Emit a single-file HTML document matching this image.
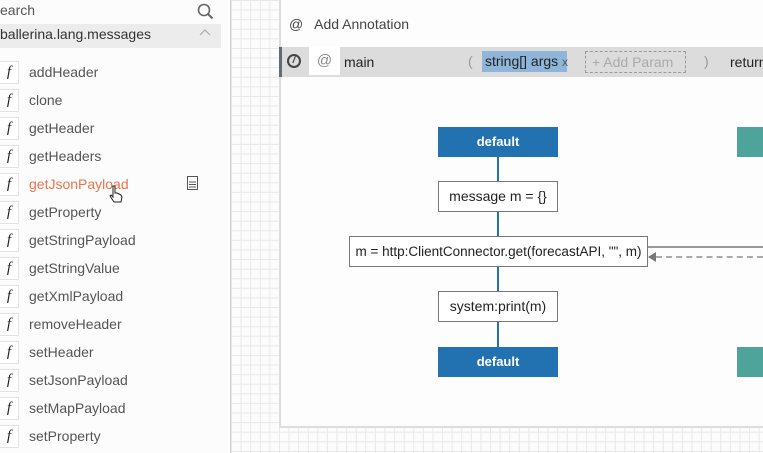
<!DOCTYPE html>
<html><head><style>
*{margin:0;padding:0;box-sizing:border-box}
body{width:763px;height:453px;overflow:hidden;position:relative;background:#fff;font-family:"Liberation Sans",sans-serif;}
.a{position:absolute;white-space:nowrap}
.grid{left:230px;top:0;width:533px;height:453px;background-color:#fcfcfc;background-image:linear-gradient(#e8e8e8 1px,transparent 1px),linear-gradient(90deg,#e8e8e8 1px,transparent 1px);background-size:9.6px 9.6px;border-left:1px solid #ccc}
.it{position:absolute;left:0;height:28px;width:229px}
.it .f{position:absolute;left:-1px;top:3px;width:20px;height:23px;border:1px solid #e4e4e4;background:#fff;font-family:"Liberation Serif",serif;font-style:italic;font-size:15px;text-align:center;line-height:21px;color:#222}
.it .t{position:absolute;left:29px;top:6px;font-size:14px;color:#555;white-space:nowrap}
.box{position:absolute;background:#fff;border:1px solid #777;font-size:14px;color:#222;text-align:center;line-height:29px;height:31px;white-space:nowrap}
.blue{position:absolute;background:#2271b1;color:#fff;font-weight:bold;font-size:13px;text-align:center;line-height:30px;width:120px;height:30px;left:438px}
.teal{position:absolute;background:#4ea39a;left:737px;width:30px;height:30px}
</style></head><body>
<div class="a" style="left:0;top:0;width:229px;height:453px;background:#fcfcfc"></div>
<div class="a" style="left:0;top:2px;font-size:14px;color:#555">earch</div>
<svg class="a" style="left:197px;top:3px" width="17" height="17"><circle cx="7" cy="7" r="5.5" fill="none" stroke="#666" stroke-width="1.6"/><line x1="11" y1="11" x2="15.5" y2="15.5" stroke="#666" stroke-width="2"/></svg>
<div class="a" style="left:0;top:24px;width:221px;height:24px;background:#ececec"></div>
<div class="a" style="left:0;top:26px;font-size:14px;color:#333">ballerina.lang.messages</div>
<svg class="a" style="left:199px;top:29px" width="12" height="8"><polyline points="1,6 6,1 11,6" fill="none" stroke="#aaa" stroke-width="1.2"/></svg>
<div class="it" style="top:58px"><div class="f">f</div><div class="t">addHeader</div></div>
<div class="it" style="top:86px"><div class="f">f</div><div class="t">clone</div></div>
<div class="it" style="top:114px"><div class="f">f</div><div class="t">getHeader</div></div>
<div class="it" style="top:142px"><div class="f">f</div><div class="t">getHeaders</div></div>
<div class="it" style="top:170px"><div class="f">f</div><div class="t" style="color:#e8744a">getJsonPayload</div></div>
<div class="it" style="top:198px"><div class="f">f</div><div class="t">getProperty</div></div>
<div class="it" style="top:226px"><div class="f">f</div><div class="t">getStringPayload</div></div>
<div class="it" style="top:254px"><div class="f">f</div><div class="t">getStringValue</div></div>
<div class="it" style="top:282px"><div class="f">f</div><div class="t">getXmlPayload</div></div>
<div class="it" style="top:310px"><div class="f">f</div><div class="t">removeHeader</div></div>
<div class="it" style="top:338px"><div class="f">f</div><div class="t">setHeader</div></div>
<div class="it" style="top:366px"><div class="f">f</div><div class="t">setJsonPayload</div></div>
<div class="it" style="top:394px"><div class="f">f</div><div class="t">setMapPayload</div></div>
<div class="it" style="top:422px"><div class="f">f</div><div class="t">setProperty</div></div>
<svg class="a" style="left:187px;top:176px" width="11" height="14"><rect x="0.5" y="0.5" width="10" height="13" fill="#fff" stroke="#555"/><line x1="2" y1="6" x2="9" y2="6" stroke="#555"/><line x1="2" y1="8.5" x2="9" y2="8.5" stroke="#555"/><line x1="2" y1="11" x2="9" y2="11" stroke="#555"/></svg>
<svg class="a" style="left:108px;top:185px" width="16" height="18"><path d="M5,1 L7,1 L7,8 L9,8 L11,9 L13,10 L14,12 L13,17 L6,17 L2,11 L3,10 L5,12 Z" fill="#fff" stroke="#222" stroke-width="1"/></svg>

<div class="a grid"></div>
<div class="a" style="left:279px;top:0;width:484px;height:428px;background:#fdfdfd;border-left:2px solid #ddd;border-bottom:2px solid #ddd"></div>
<div class="a" style="left:289px;top:16px;font-size:14px;color:#444">@&nbsp;&nbsp; Add Annotation</div>
<div class="a" style="left:279px;top:47px;width:484px;height:30px;background:#dcdcdc;border-left:3px solid #5d6b7a"></div>
<div class="a" style="left:287px;top:54px;width:14px;height:14px;border:2px solid #444;border-radius:50%;font-size:10px;font-style:italic;font-weight:bold;text-align:center;line-height:10px;color:#444">/</div>
<div class="a" style="left:309px;top:47px;width:31px;height:28px;background:#fff;font-size:15px;color:#888;text-align:center;line-height:28px">@</div>
<div class="a" style="left:344px;top:54px;font-size:14px;color:#222">main</div>
<div class="a" style="left:468px;top:53px;font-size:14px;color:#999">(</div>
<div class="a" style="left:482px;top:51px;width:85px;height:21px;background:#8fb5d9;font-size:14px;color:#222;line-height:21px;padding-left:3px">string[] args <span style="color:#555;font-size:12px">x</span></div>
<div class="a" style="left:585px;top:51px;width:101px;height:22px;border:1px dashed #999;font-size:14px;color:#aaa;line-height:20px;padding-left:6px">+ Add Param</div>
<div class="a" style="left:704px;top:53px;font-size:14px;color:#999">)</div>
<div class="a" style="left:730px;top:54px;font-size:14px;color:#222">return</div>

<div class="a" style="left:497px;top:157px;width:2px;height:190px;background:#2271b1"></div>
<div class="blue" style="top:127px">default</div>
<div class="blue" style="top:347px">default</div>
<div class="box" style="left:438px;top:181px;width:120px">message m = {}</div>
<div class="box" style="left:349px;top:236px;width:299px;font-size:13.5px">m = http:ClientConnector.get(forecastAPI, "", m)</div>
<div class="box" style="left:438px;top:291px;width:120px">system:print(m)</div>
<div class="a" style="left:648px;top:246px;width:115px;height:2px;background:#999"></div>
<div class="a" style="left:656px;top:256px;width:107px;border-top:2px dashed #aaa"></div>
<svg class="a" style="left:648px;top:252px" width="9" height="10"><polygon points="0,5 8,0 8,10" fill="#777"/></svg>
<div class="teal" style="top:127px"></div>
<div class="teal" style="top:347px"></div>
</body></html>
